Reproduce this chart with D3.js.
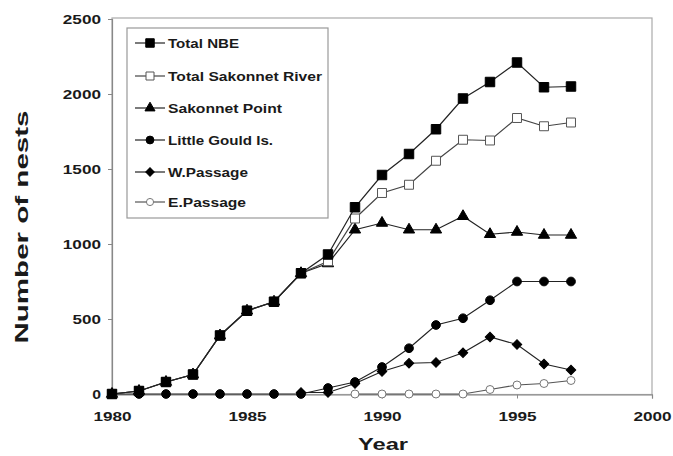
<!DOCTYPE html>
<html>
<head>
<meta charset="utf-8">
<script src="https://cdn.jsdelivr.net/npm/d3@7"></script>
<style>
  html, body { margin: 0; padding: 0; background: #fff; }
  svg { display: block; }
  text { font-family: "Liberation Sans", Arial, sans-serif; font-weight: bold; fill: #1a1a1a; }
</style>
</head>
<body>
<svg id="chart" width="673" height="456"></svg>
<script>
const years = [1980,1981,1982,1983,1984,1985,1986,1987,1988,1989,1990,1991,1992,1993,1994,1995,1996,1997];
const totalNBE      = [0, 20, 80, 130, 390, 555, 615, 805, 930, 1245, 1460, 1600, 1765, 1970, 2080, 2210, 2045, 2050];
const totalSakonnet = [0, 20, 80, 130, 390, 555, 615, 805, 885, 1170, 1340, 1395, 1555, 1695, 1690, 1840, 1785, 1810];
const sakonnetPoint = [0, 20, 80, 130, 390, 555, 615, 805, 870, 1095, 1140, 1095, 1095, 1185, 1065, 1080, 1060, 1060];
const littleGould   = [0, 0, 0, 0, 0, 0, 0, 0, 40, 80, 180, 305, 460, 505, 625, 750, 750, 750];
const wPassage      = [null, null, null, null, null, null, null, 10, 10, 70, 150, 205, 210, 275, 380, 330, 200, 160];
const ePassage      = [null, null, null, null, null, null, null, null, null, 0, 0, 0, 0, 0, 30, 60, 70, 90];
const seriesNames = ["Total NBE", "Total Sakonnet River", "Sakonnet Point", "Little Gould Is.", "W.Passage", "E.Passage"];
const xTicks = [1980, 1985, 1990, 1995, 2000];
const yTicks = [0, 500, 1000, 1500, 2000, 2500];

const series = [
  {name: seriesNames[0], values: totalNBE,      sym: d3.symbolSquare,   size: 90, rot: 0,  fill: "#000", stroke: "#000", line: "#222"},
  {name: seriesNames[1], values: totalSakonnet, sym: d3.symbolSquare,   size: 80, rot: 0,  fill: "#fff", stroke: "#555", line: "#444"},
  {name: seriesNames[2], values: sakonnetPoint, sym: d3.symbolTriangle, size: 55, rot: 0,  fill: "#000", stroke: "#000", line: "#222"},
  {name: seriesNames[3], values: littleGould,   sym: d3.symbolCircle,   size: 60, rot: 0,  fill: "#000", stroke: "#000", line: "#222"},
  {name: seriesNames[4], values: wPassage,      sym: d3.symbolSquare,   size: 45, rot: 45, fill: "#000", stroke: "#000", line: "#222"},
  {name: seriesNames[5], values: ePassage,      sym: d3.symbolCircle,   size: 50, rot: 0,  fill: "#fff", stroke: "#777", line: "#555"}
];

const svg = d3.select("#chart");
const L = 112, R = 652, T = 18, B = 394;
const x = d3.scaleLinear().domain([1980, 2000]).range([L, R]);
const y = d3.scaleLinear().domain([0, 2500]).range([B, T + 1]);

// plot frame
svg.append("rect").attr("x", L).attr("y", T).attr("width", R - L).attr("height", B - T + 0.5)
  .attr("fill", "none").attr("stroke", "#aaa").attr("stroke-width", 1.2);

// axes
const yAxis = svg.append("g").attr("transform", `translate(${L},0)`)
  .call(d3.axisLeft(y).tickValues(yTicks).tickSize(4).tickPadding(7).tickFormat(d3.format("d")));
const xAxis = svg.append("g").attr("transform", `translate(0,${B + 0.5})`)
  .call(d3.axisBottom(x).tickValues(xTicks).tickSize(4).tickPadding(14).tickFormat(d3.format("d")));
[yAxis, xAxis].forEach(g => {
  g.select(".domain").attr("stroke", "#888").attr("stroke-width", 1.2);
  g.selectAll(".tick line").attr("stroke", "#888");
  g.selectAll(".tick text")
    .style("font-family", '"Liberation Sans", Arial, sans-serif')
    .style("font-weight", "bold").attr("font-size", 12.5).attr("fill", "#1a1a1a")
    .attr("textLength", d => String(d).length * 9.8 - 1).attr("lengthAdjust", "spacingAndGlyphs");
});

// axis titles
svg.append("text").attr("transform", "translate(28,227) rotate(-90)")
  .attr("text-anchor", "middle").attr("font-size", 18)
  .attr("textLength", 233).attr("lengthAdjust", "spacingAndGlyphs").text("Number of nests");
svg.append("text").attr("x", 383).attr("y", 450)
  .attr("text-anchor", "middle").attr("font-size", 17)
  .attr("textLength", 50).attr("lengthAdjust", "spacingAndGlyphs").text("Year");

// lines and markers (draw bottom series first)
const line = d3.line().defined(d => d.v !== null).x(d => x(d.yr)).y(d => y(d.v));
series.slice().reverse().forEach(s => {
  const pts = years.map((yr, i) => ({yr, v: s.values[i]}));
  svg.append("path").datum(pts).attr("d", line)
    .attr("fill", "none").attr("stroke", s.line).attr("stroke-width", 1.2);
  svg.append("g").selectAll("path").data(pts.filter(d => d.v !== null)).join("path")
    .attr("transform", d => `translate(${x(d.yr)},${y(d.v)}) rotate(${s.rot})`)
    .attr("d", d3.symbol(s.sym, s.size))
    .attr("fill", s.fill).attr("stroke", s.stroke).attr("stroke-width", 1);
});

// legend
const lg = svg.append("g");
lg.append("rect").attr("x", 127).attr("y", 28).attr("width", 201).attr("height", 190)
  .attr("fill", "#fff").attr("stroke", "#999").attr("stroke-width", 1.2);
const legY = [43, 76, 108, 140, 172, 202];
const legW = [71, 154, 114, 105, 80, 78];
series.forEach((s, i) => {
  const g = lg.append("g").attr("transform", `translate(0,${legY[i]})`);
  g.append("line").attr("x1", 135).attr("x2", 165).attr("y1", 0).attr("y2", 0)
    .attr("stroke", s.line).attr("stroke-width", 1.2);
  g.append("path").attr("transform", `translate(150,0) rotate(${s.rot})`).attr("d", d3.symbol(s.sym, s.size * 0.8))
    .attr("fill", s.fill).attr("stroke", s.stroke).attr("stroke-width", 1);
  g.append("text").attr("x", 168).attr("y", 4.5).attr("font-size", 12.5)
    .attr("textLength", legW[i]).attr("lengthAdjust", "spacingAndGlyphs").text(s.name);
});
</script>
</body>
</html>
